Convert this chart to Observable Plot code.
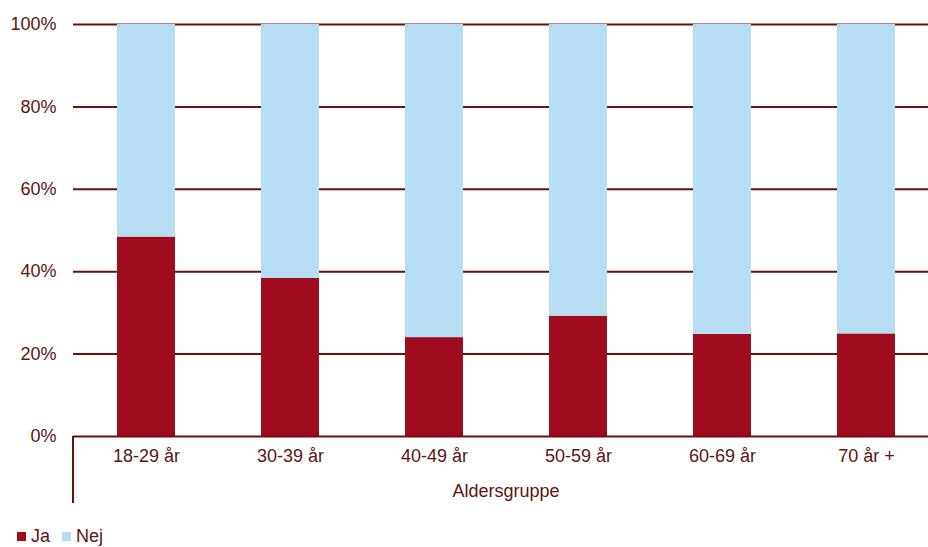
<!DOCTYPE html>
<html><head><meta charset="utf-8">
<script src="https://cdn.jsdelivr.net/npm/d3@7"></script>
<script src="https://cdn.jsdelivr.net/npm/@observablehq/plot@0.6"></script>
<style>
body{margin:0;background:#fff;font-family:"Liberation Sans",Arial,sans-serif;overflow:hidden;}
#legend{position:absolute;left:17px;top:527px;display:flex;align-items:center;font-size:18px;color:#5c1414;line-height:18px;}
#legend .sw{display:inline-block;width:9px;height:9px;margin-right:5px;}
#legend .item{display:flex;align-items:center;margin-right:12px;}
</style></head><body><div id="chart"></div><div id="legend"></div>
<script>
const categories = ["18-29 år","30-39 år","40-49 år","50-59 år","60-69 år","70 år +"];
const seriesNames = ["Ja","Nej"];
const jaValues = [48.4,38.4,24.0,29.2,24.8,24.9];
const nejValues = [51.6,61.6,76.0,70.8,75.2,75.1];
const yTicks = [0,20,40,60,80,100];
const colors = ["#9e0b1f","#b7ddf3"];
const axisTitle = "Aldersgruppe";

const textColor = "#5c1414";
const lineColor = "#6e0f0f";

const rows = [];
categories.forEach((c,i)=>{
  rows.push({cat:c, series:seriesNames[0], value:jaValues[i]});
  rows.push({cat:c, series:seriesNames[1], value:nejValues[i]});
});

const chart = Plot.plot({
  width: 928,
  height: 515,
  marginTop: 24,
  marginBottom: 79,
  marginLeft: 73,
  marginRight: 0,
  style: {fontSize:"18px", fontFamily:"'Liberation Sans', Arial, sans-serif", color:textColor, background:"#fff"},
  x: {type:"band", domain:categories, range:[73,939], paddingInner:0.6, paddingOuter:0.3},
  y: {domain:[0,100]},
  color: {domain:seriesNames, range:colors},
  marks: [
    Plot.ruleY(yTicks.filter(d=>d>0), {stroke:lineColor, strokeWidth:2}),
    Plot.barY(rows, Plot.stackY({x:"cat", y:"value", fill:"series", order:seriesNames})),
    Plot.ruleY([0], {stroke:lineColor, strokeWidth:2}),
    Plot.axisY({ticks:yTicks, tickSize:0, tickPadding:17, tickFormat:d=>d+"%", label:null}),
    Plot.axisX({tickSize:0, tickPadding:13, label:null}),
    Plot.text([axisTitle], {frameAnchor:"bottom", text:d=>d, dx:5, dy:60, fill:textColor, fontSize:18}),
    (index, scales, values, dims) => {
      const y0 = dims.height - dims.marginBottom;
      return d3.create("svg:line")
        .attr("x1", dims.marginLeft).attr("x2", dims.marginLeft)
        .attr("y1", y0).attr("y2", y0 + 67)
        .attr("stroke", lineColor).attr("stroke-width", 2).node();
    }
  ]
});
document.getElementById("chart").appendChild(chart);

const legend = document.getElementById("legend");
seriesNames.forEach((s,i)=>{
  const it = document.createElement("span");
  it.className = "item";
  const sw = document.createElement("span");
  sw.className = "sw"; sw.style.background = colors[i];
  it.appendChild(sw);
  it.appendChild(document.createTextNode(s));
  legend.appendChild(it);
});
</script></body></html>
